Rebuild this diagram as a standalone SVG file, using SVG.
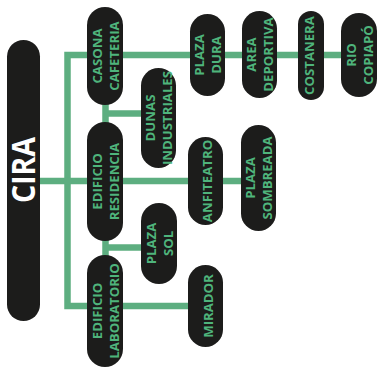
<svg xmlns="http://www.w3.org/2000/svg" width="382" height="383" viewBox="0 0 382 383">
<style>
.pill{fill:#1c1c1b}
.c{fill:none;stroke:#5dae80;stroke-width:6.5;stroke-linejoin:miter}
.t{font-family:"Open Sans","Liberation Sans",sans-serif;font-weight:700;font-size:13.2px;fill:#4fb47c;text-anchor:middle}
.big{font-family:"Open Sans","Liberation Sans",sans-serif;font-weight:700;font-size:32px;fill:#ffffff;text-anchor:middle}
</style>
<rect width="382" height="383" fill="#ffffff"/>
<g id="connectors">
<path class="c" d="M190 55 H67.5 V306 H190"/>
<path class="c" d="M225 55 H345"/>
<path class="c" d="M40 181 H250"/>
<path class="c" d="M105.5 100 V127 M105.5 113.5 H145"/>
<path class="c" d="M105.5 236 V260 M105.5 247.5 H145"/>
</g>
<g id="cira">
<rect class="pill" x="7" y="40" width="33" height="281" rx="16.5"/>
<text class="big" transform="translate(35,170) rotate(-90)" textLength="66" lengthAdjust="spacingAndGlyphs">CIRA</text>
</g>
<g id="casona-cafeteria">
<rect class="pill" x="87" y="7" width="36" height="98" rx="18"/>
<text class="t" transform="translate(105,56) rotate(-90)"><tspan x="0" y="-3.5">CASONA</tspan><tspan x="0" y="13.5">CAFETERIA</tspan></text>
</g>
<g id="edificio-residencia">
<rect class="pill" x="87" y="122" width="36" height="119" rx="18"/>
<text class="t" transform="translate(105,181.5) rotate(-90)"><tspan x="0" y="-3.5">EDIFICIO</tspan><tspan x="0" y="13.5">RESIDENCIA</tspan></text>
</g>
<g id="edificio-laboratorio">
<rect class="pill" x="87" y="255" width="36" height="112" rx="18"/>
<text class="t" transform="translate(105,311) rotate(-90)"><tspan x="0" y="-3.5">EDIFICIO</tspan><tspan x="0" y="13.5">LABORATORIO</tspan></text>
</g>
<g id="dunas-industriales">
<rect class="pill" x="141" y="68" width="35" height="100" rx="17.5"/>
<text class="t" transform="translate(158.5,118) rotate(-90)"><tspan x="0" y="-3.5">DUNAS</tspan><tspan x="0" y="13.5">INDUSTRIALES</tspan></text>
</g>
<g id="plaza-sol">
<rect class="pill" x="141" y="203" width="36" height="81" rx="18"/>
<text class="t" transform="translate(159,243.5) rotate(-90)"><tspan x="0" y="-3.5">PLAZA</tspan><tspan x="0" y="13.5">SOL</tspan></text>
</g>
<g id="plaza-dura">
<rect class="pill" x="190" y="14" width="35" height="82" rx="17.5"/>
<text class="t" transform="translate(207.5,55) rotate(-90)"><tspan x="0" y="-3.5">PLAZA</tspan><tspan x="0" y="13.5">DURA</tspan></text>
</g>
<g id="area-deportiva">
<rect class="pill" x="242" y="11" width="35" height="87" rx="17.5"/>
<text class="t" transform="translate(259.5,54.5) rotate(-90)"><tspan x="0" y="-3.5">AREA</tspan><tspan x="0" y="13.5">DEPORTIVA</tspan></text>
</g>
<g id="costanera">
<rect class="pill" x="298" y="11" width="26" height="89" rx="13"/>
<text class="t" transform="translate(314,55.5) rotate(-90)">COSTANERA</text>
</g>
<g id="rio-copiapo">
<rect class="pill" x="341" y="13" width="36" height="84" rx="18"/>
<text class="t" transform="translate(359,55) rotate(-90)"><tspan x="0" y="-3.5">RIO</tspan><tspan x="0" y="13.5">COPIAPÓ</tspan></text>
</g>
<g id="anfiteatro">
<rect class="pill" x="188" y="137" width="35" height="88" rx="17.5"/>
<text class="t" transform="translate(212,181) rotate(-90)">ANFITEATRO</text>
</g>
<g id="plaza-sombreada">
<rect class="pill" x="241" y="125" width="35" height="106" rx="17.5"/>
<text class="t" transform="translate(258.5,178) rotate(-90)"><tspan x="0" y="-3.5">PLAZA</tspan><tspan x="0" y="13.5">SOMBREADA</tspan></text>
</g>
<g id="mirador">
<rect class="pill" x="188" y="265" width="35" height="82" rx="17.5"/>
<text class="t" transform="translate(212.5,306) rotate(-90)">MIRADOR</text>
</g>
</svg>
